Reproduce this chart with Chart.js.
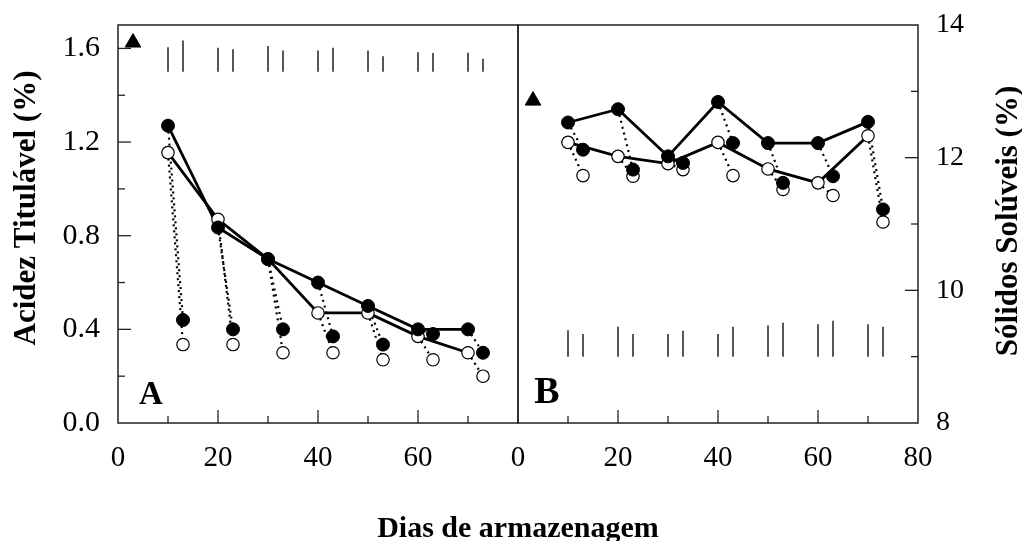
<!DOCTYPE html>
<html><head><meta charset="utf-8">
<script src="https://cdn.jsdelivr.net/npm/chart.js@4.4.0/dist/chart.umd.min.js"></script>
<style>
html,body{margin:0;padding:0;background:#fff;}
#wrap{position:relative;width:1022px;height:541px;background:#fff;}
#wrap canvas{position:absolute;left:0;top:0;}
</style></head><body>
<div id="wrap"><canvas id="cA" width="1022" height="541"></canvas><canvas id="cB" width="1022" height="541"></canvas></div>
<script>
// ---- data ----
const harvestDays = [10, 20, 30, 40, 50, 60, 70];
const shelfDays   = [13, 23, 33, 43, 53, 63, 73];

// Panel A: Acidez Titulável (%)
const acidFilledHarvest = [1.27, 0.835, 0.70, 0.60, 0.50, 0.40, 0.40];
const acidFilledShelf   = [0.44, 0.40, 0.40, 0.37, 0.335, 0.38, 0.30];
const acidOpenHarvest   = [1.155, 0.87, 0.70, 0.47, 0.47, 0.37, 0.30];
const acidOpenShelf     = [0.335, 0.335, 0.30, 0.30, 0.27, 0.27, 0.20];

// Panel B: Sólidos Solúveis (%)
const solidsFilledHarvest = [12.53, 12.73, 12.02, 12.84, 12.22, 12.22, 12.54];
const solidsFilledShelf   = [12.12, 11.82, 11.92, 12.22, 11.62, 11.72, 11.22];
const solidsOpenHarvest   = [12.23, 12.02, 11.91, 12.23, 11.83, 11.62, 12.33];
const solidsOpenShelf     = [11.73, 11.72, 11.82, 11.73, 11.52, 11.43, 11.03];

// Variability bars
const barDays    = [10, 13, 20, 23, 30, 33, 40, 43, 50, 53, 60, 63, 70, 73];
const barBaseA   = 1.5;
const barTopA    = [1.605, 1.634, 1.603, 1.596, 1.610, 1.591, 1.591, 1.603, 1.591, 1.566, 1.584, 1.580, 1.581, 1.556];
const barBaseB   = 9.0;
const barTopB    = [9.40, 9.34, 9.45, 9.34, 9.34, 9.39, 9.34, 9.45, 9.47, 9.51, 9.49, 9.54, 9.49, 9.45];

// Triangle markers
const triangleA = {x: 3, y: 1.625};
const triangleB = {x: 3, y: 12.86};

// Tick labels
const xTickLabelsA   = [0, 20, 40, 60];
const xTickLabelsB   = [0, 20, 40, 60, 80];
const acidTickLabels = [0.0, 0.4, 0.8, 1.2, 1.6];
const solidsTickLabels = [8, 10, 12, 14];

// ---- helpers ----
const SERIF = "'Liberation Serif', 'Times New Roman', serif";
const pts = (xs, ys) => xs.map((x, i) => ({x: x, y: ys[i]}));
function connectors(h, hv, s, sv) {
  const out = [];
  h.forEach((d, i) => { out.push({x: d, y: hv[i]}, {x: s[i], y: sv[i]}, {x: s[i], y: null}); });
  return out;
}
function bars(days, base, tops) {
  const out = [];
  days.forEach((d, i) => { out.push({x: d, y: base}, {x: d, y: tops[i]}, {x: d, y: null}); });
  return out;
}
const inList = (list, v) => list.some(l => Math.abs(l - v) < 1e-6);
function stepTicks(step) {
  return s => {
    const t = [];
    for (let i = 0; s.min + i * step <= s.max + 1e-9; i++) t.push({value: +(s.min + i * step).toFixed(6)});
    s.ticks = t;
  };
}
const noPad = s => { s.paddingTop = 0; s.paddingBottom = 0; s.paddingLeft = 0; s.paddingRight = 0; };

const framePlugin = {
  id: 'frame',
  afterDraw(chart, args, opts) {
    const ctx = chart.ctx, a = chart.chartArea;
    ctx.save();
    ctx.strokeStyle = '#222';
    ctx.lineWidth = 1.5;
    ctx.strokeRect(a.left, a.top, a.right - a.left, a.bottom - a.top);
    ctx.lineWidth = 1.3;
    const line = (x1, y1, x2, y2) => { ctx.beginPath(); ctx.moveTo(x1, y1); ctx.lineTo(x2, y2); ctx.stroke(); };
    const xs = chart.scales.x;
    xs.ticks.forEach(t => {
      if (t.value <= xs.min || t.value >= xs.max) return;
      const px = xs.getPixelForValue(t.value);
      const len = (t.label !== '' ? 13 : 7);
      line(px, a.bottom, px, a.bottom - len);
    });
    const ys = chart.scales.y;
    ys.ticks.forEach(t => {
      if (t.value <= ys.min + 1e-9 || t.value >= ys.max - 1e-9) return;
      const py = ys.getPixelForValue(t.value);
      const len = (t.label !== '' ? 13 : 7);
      if (ys.position === 'left') line(a.left, py, a.left + len, py);
      else line(a.right, py, a.right - len, py);
    });
    ctx.fillStyle = '#000';
    (opts.texts || []).forEach(tx => {
      ctx.save();
      ctx.font = tx.font;
      ctx.textAlign = 'center';
      ctx.textBaseline = 'alphabetic';
      ctx.translate(tx.x, tx.y);
      if (tx.rot) ctx.rotate(tx.rot);
      ctx.fillText(tx.text, 0, 0);
      ctx.restore();
    });
    ctx.restore();
  }
};

function makePanel(id, cfg) {
  const datasets = [
    {label: 'filled', data: pts(harvestDays.concat(shelfDays), cfg.fH.concat(cfg.fS)),
     pointRadius: 6.5, pointBackgroundColor: '#000', pointBorderColor: '#000', pointBorderWidth: 1, showLine: false, order: 0},
    {label: 'open', data: pts(harvestDays.concat(shelfDays), cfg.oH.concat(cfg.oS)),
     pointRadius: 6.2, pointBackgroundColor: '#fff', pointBorderColor: '#000', pointBorderWidth: 1.2, showLine: false, order: 1},
    {label: 'tri', data: [cfg.tri], pointStyle: 'triangle', pointRadius: 9,
     pointBackgroundColor: '#000', pointBorderColor: '#000', pointBorderWidth: 1, showLine: false, order: 1},
    {label: 'lineF', data: pts(harvestDays, cfg.fH), showLine: true, borderColor: '#000', borderWidth: 2.8, pointRadius: 0, order: 4},
    {label: 'lineO', data: pts(harvestDays, cfg.oH), showLine: true, borderColor: '#000', borderWidth: 2.8, pointRadius: 0, order: 4},
    {label: 'dotF', data: connectors(harvestDays, cfg.fH, shelfDays, cfg.fS), showLine: true, spanGaps: false,
     borderColor: '#000', borderWidth: 2.2, borderDash: [2, 4], pointRadius: 0, order: 5},
    {label: 'dotO', data: connectors(harvestDays, cfg.oH, shelfDays, cfg.oS), showLine: true, spanGaps: false,
     borderColor: '#000', borderWidth: 2.2, borderDash: [2, 4], pointRadius: 0, order: 5},
    {label: 'bars', data: bars(barDays, cfg.barBase, cfg.barTop), showLine: true, spanGaps: false,
     borderColor: '#111', borderWidth: 1.4, pointRadius: 0, order: 6}
  ];
  return new Chart(document.getElementById(id), {
    type: 'scatter',
    data: {datasets: datasets},
    plugins: [framePlugin],
    options: {
      responsive: false, animation: false, devicePixelRatio: 1, events: [],
      layout: {padding: cfg.padding},
      plugins: {legend: {display: false}, tooltip: {enabled: false}, title: {display: false},
                frame: {texts: cfg.texts}},
      scales: {
        x: {type: 'linear', position: 'bottom', min: 0, max: 80,
            grid: {display: false}, border: {display: false},
            afterBuildTicks: stepTicks(10),
            afterFit: s => { s.height = 118; noPad(s); },
            ticks: {autoSkip: false, maxRotation: 0, minRotation: 0, padding: 10, color: '#000',
                    font: {family: SERIF, size: 29},
                    callback: v => inList(cfg.xLabels, v) ? String(v) : ''}},
        y: {type: 'linear', position: cfg.yPos, min: cfg.yMin, max: cfg.yMax,
            grid: {display: false}, border: {display: false},
            afterBuildTicks: stepTicks(cfg.yStep),
            afterFit: s => { s.width = cfg.yWidth; noPad(s); },
            ticks: {autoSkip: false, padding: cfg.yPad, color: '#000',
                    font: {family: SERIF, size: cfg.yFont},
                    callback: v => inList(cfg.yLabels, v) ? cfg.fmt(v) : ''}}
      }
    }
  });
}

makePanel('cA', {
  fH: acidFilledHarvest, fS: acidFilledShelf, oH: acidOpenHarvest, oS: acidOpenShelf,
  tri: triangleA, barBase: barBaseA, barTop: barTopA,
  padding: {left: 0, top: 25, right: 504, bottom: 0},
  xLabels: xTickLabelsA, yLabels: acidTickLabels, yPos: 'left', yMin: 0, yMax: 1.7, yStep: 0.2,
  yWidth: 118, yPad: 10, yFont: 30, fmt: v => v.toFixed(1),
  texts: [
    {text: 'Acidez Titulável (%)', font: "bold 31px " + SERIF, x: 35, y: 208, rot: -Math.PI / 2},
    {text: 'Dias de armazenagem', font: "bold 30px " + SERIF, x: 518, y: 537},
    {text: 'A', font: "bold 33px " + SERIF, x: 151, y: 404}
  ]
});

makePanel('cB', {
  fH: solidsFilledHarvest, fS: solidsFilledShelf, oH: solidsOpenHarvest, oS: solidsOpenShelf,
  tri: triangleB, barBase: barBaseB, barTop: barTopB,
  padding: {left: 518, top: 25, right: 0, bottom: 0},
  xLabels: xTickLabelsB, yLabels: solidsTickLabels, yPos: 'right', yMin: 8, yMax: 14, yStep: 1,
  yWidth: 104, yPad: 10, yFont: 28, fmt: v => String(v),
  texts: [
    {text: 'Sólidos Solúveis (%)', font: "bold 31px " + SERIF, x: 1017, y: 221, rot: -Math.PI / 2},
    {text: 'B', font: "bold 38px " + SERIF, x: 547, y: 403}
  ]
});
</script>
</body></html>
